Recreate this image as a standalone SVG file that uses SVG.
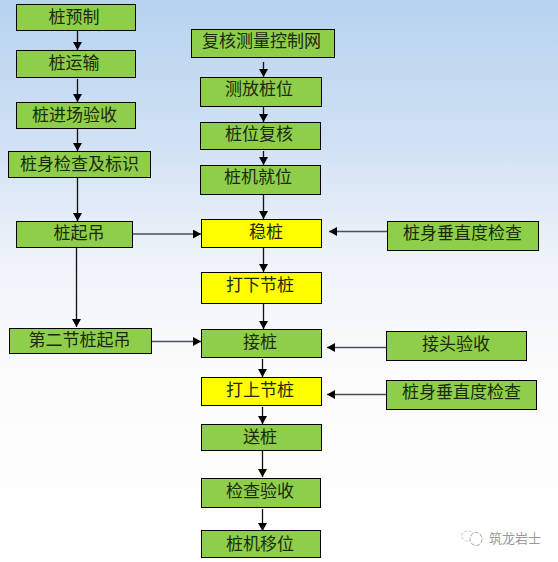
<svg xmlns="http://www.w3.org/2000/svg" width="558" height="562" viewBox="0 0 558 562">
<style>
.n{stroke:#000;stroke-width:1}
.g{fill:#8fce4b}
.y{fill:#ffff00}
text{font-family:"Noto Sans CJK SC","Liberation Sans",sans-serif;font-size:17px;fill:#1c2a0c;text-anchor:middle}
.c path{fill:none;stroke:#111;stroke-width:1.3}
.h{stroke:#4a4f58 !important;stroke-width:1.5 !important}
</style>
<defs>
<linearGradient id="bg" x1="0" y1="0" x2="0" y2="1">
<stop offset="0" stop-color="#b7d3f0"/>
<stop offset=".25" stop-color="#d0e1f4"/>
<stop offset=".45" stop-color="#edf2f9"/>
<stop offset=".65" stop-color="#fbfbfc"/>
<stop offset="1" stop-color="#ffffff"/>
</linearGradient>
<marker id="a" markerUnits="userSpaceOnUse" markerWidth="10" markerHeight="10" refX="8" refY="4.5" orient="auto">
<path d="M0 0L8 4.5L0 9Z" fill="#000"/>
</marker>
</defs>
<rect id="background" width="558" height="562" fill="url(#bg)"/>
<g id="connectors" class="c">
<path d="M77.500 30V50" marker-end="url(#a)"/>
<path d="M77.500 79V102" marker-end="url(#a)"/>
<path d="M77.500 129V151" marker-end="url(#a)"/>
<path d="M77.500 177V221" marker-end="url(#a)"/>
<path d="M76.500 247V327" marker-end="url(#a)"/>
<path class="h" d="M133 234H201" marker-end="url(#a)"/>
<path class="h" d="M152 341.500H201" marker-end="url(#a)"/>
<path d="M263.500 62V77" marker-end="url(#a)"/>
<path d="M263.500 106V122" marker-end="url(#a)"/>
<path d="M263.500 151V165" marker-end="url(#a)"/>
<path d="M263.500 195V219" marker-end="url(#a)"/>
<path d="M263.500 248V272" marker-end="url(#a)"/>
<path d="M263.500 304V329" marker-end="url(#a)"/>
<path d="M262.500 359V377" marker-end="url(#a)"/>
<path d="M262.500 407V424" marker-end="url(#a)"/>
<path d="M262.500 451V477" marker-end="url(#a)"/>
<path d="M262.500 509V531" marker-end="url(#a)"/>
<path class="h" d="M387 231.500H329" marker-end="url(#a)"/>
<path class="h" d="M386 347.500H327" marker-end="url(#a)"/>
<path class="h" d="M386 394.500H327" marker-end="url(#a)"/>
</g>
<g id="n1"><rect class="n g" x="16.500" y="4.500" width="119" height="26"/><text x="74" y="23">桩预制</text></g>
<g id="n2"><rect class="n g" x="16.500" y="50.500" width="119" height="27"/><text x="74" y="69">桩运输</text></g>
<g id="n3"><rect class="n g" x="16.500" y="102.500" width="119" height="26"/><text x="74.500" y="121">桩进场验收</text></g>
<g id="n4"><rect class="n g" x="8.500" y="151.500" width="142" height="26"/><text x="79.500" y="170">桩身检查及标识</text></g>
<g id="n5"><rect class="n g" x="16.500" y="221.500" width="116" height="26"/><text x="79" y="239">桩起吊</text></g>
<g id="n6"><rect class="n g" x="9.500" y="328.500" width="142" height="25"/><text x="79.500" y="346">第二节桩起吊</text></g>
<g id="n7"><rect class="n g" x="191.500" y="29.500" width="143" height="28"/><text x="261.500" y="47">复核测量控制网</text></g>
<g id="n8"><rect class="n g" x="200.500" y="77.500" width="121" height="29"/><text x="259" y="95">测放桩位</text></g>
<g id="n9"><rect class="n g" x="200.500" y="122.500" width="120" height="27"/><text x="259" y="140">桩位复核</text></g>
<g id="n10"><rect class="n g" x="200.500" y="165.500" width="120" height="29"/><text x="258" y="183">桩机就位</text></g>
<g id="n11"><rect class="n y" x="201.500" y="219.500" width="120" height="28"/><text x="266" y="238">稳桩</text></g>
<g id="n12"><rect class="n y" x="201.500" y="272.500" width="120" height="31"/><text x="260" y="291">打下节桩</text></g>
<g id="n13"><rect class="n g" x="201.500" y="329.500" width="120" height="28"/><text x="260" y="348">接桩</text></g>
<g id="n14"><rect class="n y" x="201.500" y="377.500" width="120" height="28"/><text x="260" y="396">打上节桩</text></g>
<g id="n15"><rect class="n g" x="201.500" y="424.500" width="120" height="26"/><text x="260" y="443">送桩</text></g>
<g id="n16"><rect class="n g" x="201.500" y="478.500" width="119" height="29"/><text x="260" y="497">检查验收</text></g>
<g id="n17"><rect class="n g" x="201.500" y="530.500" width="119" height="27"/><text x="260" y="550">桩机移位</text></g>
<g id="n18"><rect class="n g" x="387.500" y="221.500" width="151" height="29"/><text x="462.500" y="239">桩身垂直度检查</text></g>
<g id="n19"><rect class="n g" x="386.500" y="331.500" width="140" height="29"/><text x="456" y="350">接头验收</text></g>
<g id="n20"><rect class="n g" x="386.500" y="380.500" width="150" height="29"/><text x="461.500" y="398">桩身垂直度检查</text></g>
<g id="watermark">
<text x="515" y="543" style="font-size:13px;fill:#999">筑龙岩士</text>
<ellipse cx="468" cy="536" rx="6.500" ry="5" fill="none" stroke="#d4d4d4" stroke-width="1.100" stroke-dasharray="3 1.500"/>
<ellipse cx="476" cy="539" rx="6" ry="6.500" fill="#fff" stroke="#b4b4b4" stroke-width="1.100" stroke-dasharray="4 1.500"/>
</g>
</svg>
